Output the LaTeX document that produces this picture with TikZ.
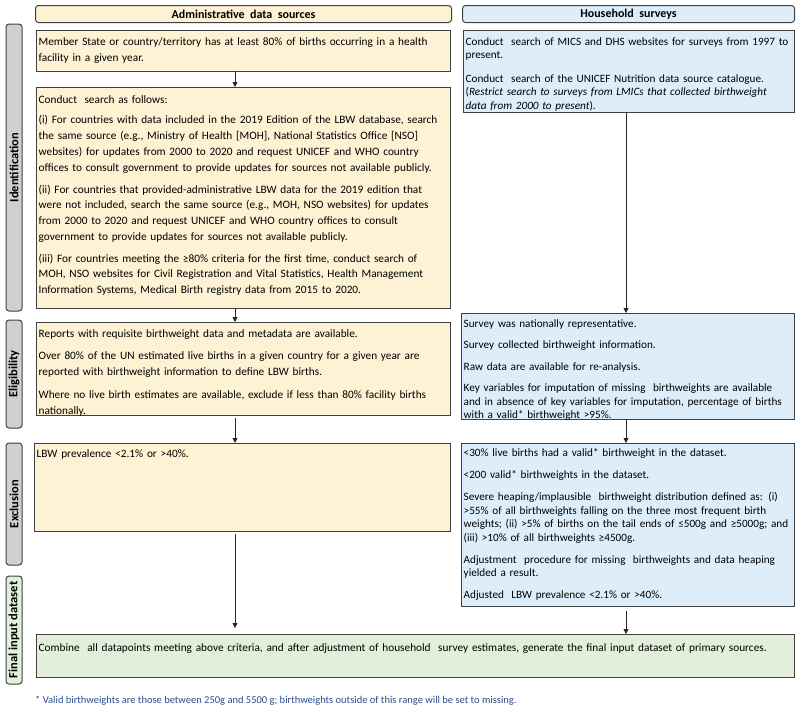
\documentclass[tikz,border=0pt]{standalone}
\usepackage{fontspec}
\setmainfont{Carlito}
\usetikzlibrary{arrows.meta}
\definecolor{admfill}{HTML}{FEF2D4}
\definecolor{hhfill}{HTML}{DDEEFA}
\definecolor{finfill}{HTML}{E2EFDA}
\definecolor{labfill}{HTML}{D0D0D0}
\definecolor{edge}{HTML}{404040}
\definecolor{notecol}{HTML}{2B4C8C}
\newcommand\topstrut{\rule{0pt}{9.5pt}}
\begin{document}
\begin{tikzpicture}[x=1pt,y=-1pt,
  lab/.style={draw=edge, line width=1pt, fill=labfill, rounded corners=3pt, rotate=90,
    minimum height=16, inner sep=0pt, font=\fontsize{12.5}{14}\selectfont\bfseries},
  hdr/.style={draw=edge, line width=1pt, rounded corners=3pt, anchor=north west,
    inner sep=0pt, font=\fontsize{12}{14}\selectfont\bfseries},
  frame/.style={draw=edge, line width=1pt, anchor=north west, inner sep=0pt, outer sep=0pt},
  admbox/.style={frame, fill=admfill},
  hhbox/.style={frame, fill=hhfill},
  finbox/.style={frame, fill=finfill},
  ltxt/.style={anchor=north west, inner sep=0pt, align=left, text width=411,
    font=\fontsize{11.3}{15.7}\selectfont},
  rtxt/.style={anchor=north west, inner sep=0pt, align=left, text width=330,
    font=\fontsize{11.2}{13.5}\selectfont},
  arr/.style={draw=black!85, line width=0.9pt, -{Triangle[length=5pt,width=5pt]}}
]
\useasboundingbox (0,0) rectangle (800,710);

% side labels
\node[lab, minimum width=287] (lid) at (14,167.5) {Identification};
\node[lab, minimum width=108] (lel) at (14,374) {Eligibility};
\node[lab, minimum width=122] (lex) at (14,504) {Exclusion};
\node[lab, minimum width=108, fill=finfill] (lfi) at (14,630) {Final input dataset};

% headers
\node[hdr, fill=admfill, minimum width=416, minimum height=17] (hadm) at (35,5) {Administrative\ \ data\ \ sources};
\node[hdr, fill=hhfill, minimum width=332, minimum height=17] (hhh) at (462,5) {Household\ \ surveys};

% administrative boxes
\node[admbox, minimum width=414, minimum height=41] (a1) at (36,30) {};
\node[ltxt] (ta1) at (38.5,36) {\topstrut Member State or country/territory has at least 80\% of births occurring in a health\\
facility in a given year.};

\node[admbox, minimum width=414, minimum height=221] (a2) at (36,87) {};
\node[ltxt] (ta2) at (38.5,94) {\topstrut Conduct\ \ search as follows:\\[4.5pt]
(i) For countries with data included in the 2019 Edition of the LBW database, search\\
the same source (e.g., Ministry of Health [MOH], National Statistics Office [NSO]\\
websites) for updates from 2000 to 2020 and request UNICEF and WHO country\\
offices to consult government to provide updates for sources not available publicly.\\[6.5pt]
(ii) For countries that provided-administrative LBW data for the 2019 edition that\\
were not included, search the same source (e.g., MOH, NSO websites) for updates\\
from 2000 to 2020 and request UNICEF and WHO country offices to consult\\
government to provide updates for sources not available publicly.\\[6pt]
(iii) For countries meeting the ≥80\% criteria for the first time, conduct search of\\
MOH, NSO websites for Civil Registration and Vital Statistics, Health Management\\
Information Systems, Medical Birth registry data from 2015 to 2020.};

\node[admbox, minimum width=414, minimum height=93] (a3) at (36,322) {};
\node[ltxt] (ta3) at (38.5,327.5) {\topstrut Reports with requisite birthweight data and metadata are available.\\[7pt]
Over 80\% of the UN estimated live births in a given country for a given year are\\
reported with birthweight information to define LBW births.\\[7pt]
Where no live birth estimates are available, exclude if less than 80\% facility births\\
nationally.};

\node[admbox, minimum width=416, minimum height=88] (a4) at (34,443) {};
\node[ltxt] (ta4) at (36.5,448) {\topstrut LBW prevalence <2.1\% or >40\%.};

% household boxes
\node[hhbox, minimum width=331, minimum height=82] (b1) at (463,30) {};
\node[rtxt] (tb1) at (465.5,35.5) {\topstrut Conduct\ \ search of MICS and DHS websites for surveys from 1997 to\\
present.\\[10pt]
Conduct\ \ search of the UNICEF Nutrition data source catalogue.\\
(\textit{Restrict search to surveys from LMICs that collected birthweight}\\
\textit{data from 2000 to present}).};

\node[hhbox, minimum width=333, minimum height=106] (b2) at (461,313) {};
\node[rtxt] (tb2) at (463.5,317.5) {\topstrut Survey was nationally representative.\\[8pt]
Survey collected birthweight information.\\[8pt]
Raw data are available for re-analysis.\\[8pt]
Key variables for imputation of missing\ \ birthweights are available\\
and in absence of key variables for imputation,\ percentage of births\\
with a valid* birthweight >95\%.};

\node[hhbox, minimum width=333, minimum height=163] (b3) at (461,443) {};
\node[rtxt] (tb3) at (463.5,447) {\topstrut <30\% live births had a valid* birthweight in the dataset.\\[8.5pt]
<200 valid* birthweights in the dataset.\\[8.5pt]
Severe heaping/implausible\ \ birthweight distribution defined as: (i)\\
>55\% of all birthweights falling on the three most frequent birth\\
weights; (ii) >5\% of births on the tail ends of ≤500g and ≥5000g; and\\
(iii) >10\% of all birthweights ≥4500g.\\[8.5pt]
Adjustment\ \ procedure for missing\ \ birthweights and data heaping\\
yielded a result.\\[8.5pt]
Adjusted\ \ LBW prevalence <2.1\% or >40\%.};

% final box
\node[finbox, minimum width=758, minimum height=43] (fin) at (36,634) {};
\node[ltxt, text width=752] (tfin) at (38.5,641.5) {\topstrut Combine\ \ all datapoints meeting above criteria, and after adjustment of household\ \ survey estimates, generate the final input dataset of primary sources.};

% footnote
\node[anchor=base west, inner sep=0pt, text=notecol, font=\fontsize{10.5}{12}\selectfont] (note) at (35,703)
  {* Valid birthweights are those between 250g and 5500 g; birthweights outside of this range will be set to missing.};

% connectors
\coordinate (lx) at (235,0);
\coordinate (rx) at (626,0);
\draw[arr] (a1.south -| lx) -- (a2.north -| lx);
\draw[arr] (a2.south -| lx) -- (a3.north -| lx);
\draw[arr] ([yshift=-3pt]a3.south -| lx) -- (a4.north -| lx);
\draw[arr] ([yshift=-3pt]a4.south -| lx) -- ([yshift=6pt]fin.north -| lx);
\draw[arr] (b1.south -| rx) -- (b2.north -| rx);
\draw[arr] (b2.south -| rx) -- (b3.north -| rx);
\draw[arr] ([yshift=-5pt]b3.south -| rx) -- (fin.north -| rx);
\end{tikzpicture}
\end{document}
